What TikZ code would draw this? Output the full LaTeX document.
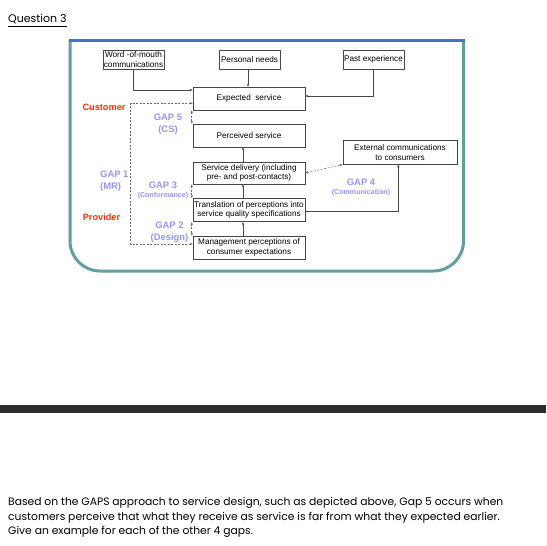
\documentclass[tikz,border=0pt]{standalone}
\usepackage{fontspec}
\setmainfont{Liberation Sans}
\newfontfamily\gothic{Poppins}
\usetikzlibrary{arrows.meta}
\definecolor{gapblue}{RGB}{150,150,250}
\definecolor{custred}{RGB}{255,51,0}
\definecolor{frameblue}{RGB}{68,114,196}
\definecolor{frameteal}{RGB}{100,158,158}
\definecolor{barcol}{RGB}{45,45,45}
\definecolor{boxline}{RGB}{70,70,70}
\tikzset{
  box/.style={draw=boxline, line width=0.6pt, align=center, inner sep=0pt,
    font=\fontsize{8.2}{9.6}\selectfont},
  arr/.style={draw=boxline, line width=0.5pt, -{Stealth[length=3pt,width=2.4pt]}},
  gaparr/.style={draw=boxline!80, line width=0.5pt, dashed, dash pattern=on 2pt off 1.5pt,
    {Stealth[length=3pt,width=2.4pt]}-{Stealth[length=3pt,width=2.4pt]}},
  gaplbl/.style={text=gapblue, font=\bfseries\fontsize{9.4}{11.5}\selectfont, align=center, inner sep=0pt},
  gapsmall/.style={text=gapblue, font=\bfseries\fontsize{7.1}{8}\selectfont, inner sep=0pt},
  side/.style={text=custred, font=\bfseries\fontsize{9.2}{11}\selectfont, inner sep=0pt},
  qtext/.style={font=\gothic\fontsize{10.75}{14.2}\selectfont, align=left, inner sep=0pt, anchor=north west}
}
\begin{document}
\begin{tikzpicture}[x=1pt,y=-1pt]
\useasboundingbox (0,0) rectangle (546,546);
\fill[white] (0,0) rectangle (546,546);
% title
\node[font=\gothic\fontsize{11}{13}\selectfont, anchor=base west, inner sep=0pt] (title) at (8,23) {\underline{Question 3}};
% frame
\draw[frameteal, line width=3pt, rounded corners=30pt] (70,40) -- (70,271) -- (463.5,271) -- (463.5,40);
\draw[frameblue, line width=3pt] (68.5,40) -- (465,40);
% boxes
\node[box, minimum width=61pt, minimum height=19pt] (wom) at (133.5,59.5) {Word -of-mouth\\communications};
\node[box, minimum width=61pt, minimum height=19pt] (pn) at (249.5,59.5) {Personal needs};
\node[box, minimum width=61pt, minimum height=19pt] (past) at (373.5,59.5) {Past experience};
\node[box, minimum width=112pt, minimum height=23pt] (exp) at (249,98.5) {Expected\ \ service};
\node[box, minimum width=112pt, minimum height=23pt] (perc) at (249,135.5) {Perceived service};
\node[box, minimum width=114pt, minimum height=23.5pt] (ext) at (400,152.5) {External communications\\to consumers};
\node[box, minimum width=112pt, minimum height=22pt] (sd) at (249,173) {Service delivery (including\\pre- and post-contacts)};
\node[box, minimum width=112pt, minimum height=23.5pt] (tr) at (249,210) {Translation of perceptions into\\service quality specifications};
\node[box, minimum width=112pt, minimum height=23pt] (mp) at (249,247.5) {Management perceptions of\\consumer expectations};
% solid connectors
\draw[arr] (wom.south) |- ([yshift=8.5pt]exp.west);
\draw[arr] ([xshift=-1.5pt]pn.south) -- ([xshift=-1.5pt]pn.south |- exp.north);
\draw[arr] (past.south) |- ([yshift=2.5pt]exp.east);
\draw[arr] ([xshift=-6pt]sd.north) -- ([xshift=-6pt]perc.south);
\draw[arr] ([xshift=-6pt]tr.north) -- ([xshift=-6pt]sd.south);
\draw[arr] ([xshift=-6pt]mp.north) -- ([xshift=-6pt]tr.south);
\draw[arr] ([yshift=-1.7pt]tr.east) -| ([xshift=-1.7pt]ext.south);
% gap connectors
\coordinate (g1) at (130.7,170);
\draw[gaparr] ([xshift=-1pt]exp.south west) -- ([xshift=-1pt]perc.north west);
\draw[gaparr] ([xshift=-1pt]sd.south west) -- ([xshift=-1pt]tr.north west);
\draw[gaparr] ([xshift=-1pt]tr.south west) -- ([xshift=-1pt]mp.north west);
\draw[gaparr] (sd.east) -- (ext.south west);
\draw[gaparr] ([yshift=-4.8pt]exp.west) -| (g1) |- ([yshift=3.5pt]mp.west);
% side labels
\node[side] (cust) at (104,107.5) {Customer};
\node[side] (prov) at (101.5,217) {Provider};
% gap labels
\node[gaplbl] (gap5) at (168,124) {GAP 5\\(CS)};
\node[gaplbl, align=left, anchor=west] (gap1) at (100,181) {GAP 1\\(MR)};
\node[gaplbl] (gap3) at (163,185.7) {GAP 3};
\node[gapsmall] (gap3b) at (163,195.7) {(Conformance)};
\node[gaplbl] (gap2) at (169.5,232) {GAP 2\\(Design)};
\node[gaplbl] (gap4) at (361,182.3) {GAP 4};
\node[gapsmall] (gap4b) at (361,192.3) {(Communication)};
% dark bar
\fill[barcol] (0,405) rectangle (546,412.7);
% question text
\node[qtext] (q) at (8,497.5) {Based on the GAPS approach to service design, such as depicted above, Gap 5 occurs when\\
customers perceive that what they receive as service is far from what they expected earlier.\\
Give an example for each of the other 4 gaps.};
\end{tikzpicture}
\end{document}
